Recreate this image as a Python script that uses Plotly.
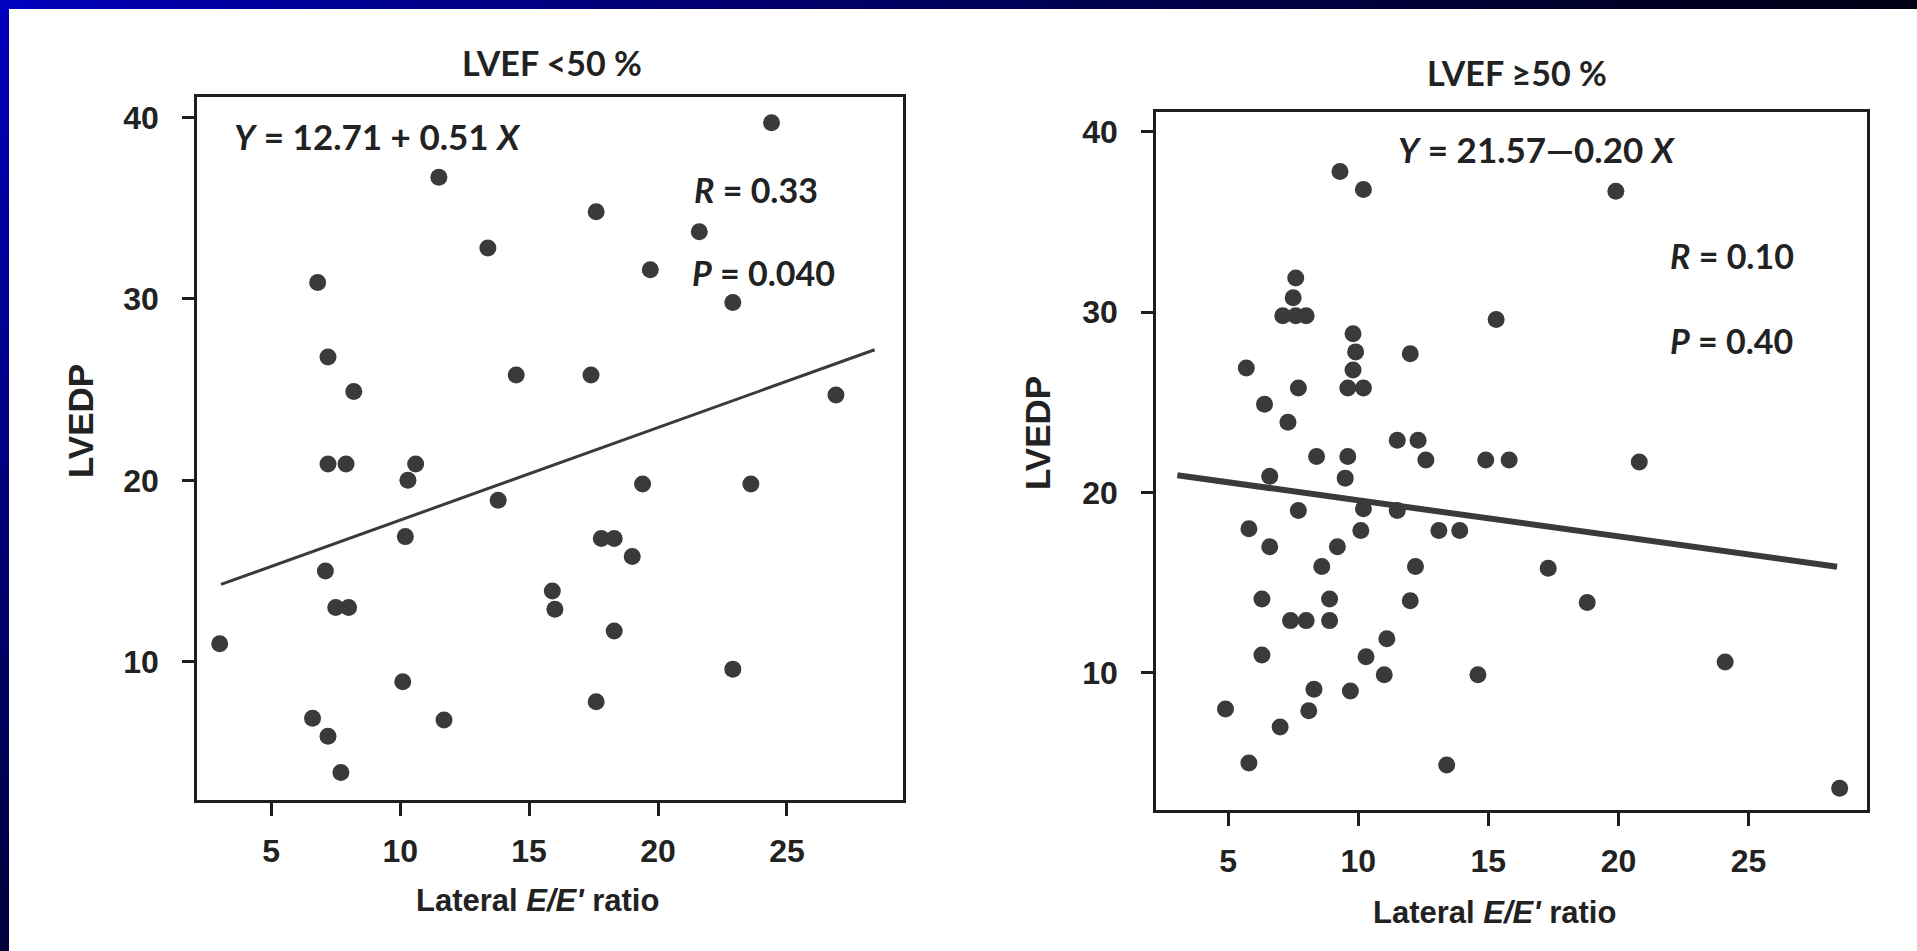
import plotly.graph_objects as go

W, H = 1917, 951

# LVEF < 50 %: lateral E/E' ratio vs LVEDP
left_x = [24.4, 11.5, 17.6, 13.4, 21.6, 19.7, 22.9, 6.8, 7.2, 8.2, 14.5, 17.4, 26.9,
          7.2, 7.9, 10.6, 10.3, 19.4, 23.6, 13.8, 10.2, 17.8, 18.3, 19.0, 7.1, 7.5,
          8.0, 15.9, 16.0, 18.3, 3.0, 22.9, 10.1, 17.6, 11.7, 6.6, 7.2, 7.7]
left_y = [39.7, 36.7, 34.8, 32.8, 33.7, 31.6, 29.8, 30.9, 26.8, 24.9, 25.8, 25.8, 24.7,
          20.9, 20.9, 20.9, 20.0, 19.8, 19.8, 18.9, 16.9, 16.8, 16.8, 15.8, 15.0, 13.0,
          13.0, 13.9, 12.9, 11.7, 11.0, 9.6, 8.9, 7.8, 6.8, 6.9, 5.9, 3.9]

# LVEF >= 50 %
right_x = [9.3, 10.2, 19.9, 7.6, 7.5, 7.1, 7.6, 8.0, 15.3, 9.8, 9.9, 9.8, 9.6, 10.2,
           12.0, 5.7, 7.7, 6.4, 7.3, 11.5, 12.3, 12.6, 8.4, 9.6, 14.9, 15.8, 20.8, 9.5,
           6.6, 7.7, 10.2, 11.5, 10.1, 5.8, 6.6, 9.2, 13.1, 13.9, 8.6, 12.2, 17.3, 6.3,
           8.9, 12.0, 18.8, 7.4, 8.0, 8.9, 11.1, 6.3, 10.3, 24.1, 11.0, 14.6, 8.3, 9.7,
           8.1, 4.9, 7.0, 5.8, 13.4, 28.5]
right_y = [37.8, 36.8, 36.7, 31.9, 30.8, 29.8, 29.8, 29.8, 29.6, 28.8, 27.8, 26.8, 25.8,
           25.8, 27.7, 26.9, 25.8, 24.9, 23.9, 22.9, 22.9, 21.8, 22.0, 22.0, 21.8, 21.8,
           21.7, 20.8, 20.9, 19.0, 19.1, 19.0, 17.9, 18.0, 17.0, 17.0, 17.9, 17.9, 15.9,
           15.9, 15.8, 14.1, 14.1, 14.0, 13.9, 12.9, 12.9, 12.9, 11.9, 11.0, 10.9, 10.6,
           9.9, 9.9, 9.1, 9.0, 7.9, 8.0, 7.0, 5.0, 4.9, 3.6]

# regression fits: Y = a + b X
left_fit = (12.71, 0.51)
right_fit = (21.57, -0.20)
fit_span = [3.05, 28.4]

x_ticks = [5, 10, 15, 20, 25]
y_ticks = [10, 20, 30, 40]

DOT = "#3a3a3a"
INK = "#1e1e1e"
SANS = "Liberation Sans, Arial, sans-serif"
CAL = "Lato, Carlito, Calibri, sans-serif"


def px(x):
    return x / W


def py(y):
    return 1 - y / H


fig = go.Figure()

for xs, ys, (a, b), xa, ya, lw in [
    (left_x, left_y, left_fit, "x", "y", 3),
    (right_x, right_y, right_fit, "x2", "y2", 6),
]:
    fig.add_trace(go.Scatter(
        x=xs, y=ys, mode="markers", xaxis=xa, yaxis=ya,
        marker=dict(size=17, color=DOT, line=dict(width=0)),
        hoverinfo="x+y", showlegend=False,
    ))
    fig.add_trace(go.Scatter(
        x=fit_span, y=[a + b * v for v in fit_span], mode="lines",
        xaxis=xa, yaxis=ya, line=dict(color=DOT, width=lw),
        hoverinfo="skip", showlegend=False,
    ))

axis_common = dict(
    showline=True, linecolor=INK, linewidth=2.5, mirror=True,
    ticks="outside", tickcolor=INK, showgrid=False, zeroline=False,
    tickfont=dict(family=SANS, size=32, color="#222222", weight="bold"),
)

fig.update_layout(
    width=W, height=H,
    margin=dict(l=0, r=0, t=0, b=0),
    paper_bgcolor="white", plot_bgcolor="white",
    xaxis=dict(axis_common, domain=[px(197), px(903)], range=[2.12, 29.5],
               tickvals=x_ticks, ticklen=13, tickwidth=3, ticklabelstandoff=8,
               anchor="y"),
    yaxis=dict(axis_common, domain=[py(800), py(97)], range=[2.39, 41.12],
               tickvals=y_ticks, ticklen=12, tickwidth=2.5, ticklabelstandoff=17,
               anchor="x"),
    xaxis2=dict(axis_common, domain=[px(1156), px(1867)], range=[2.23, 29.55],
                tickvals=x_ticks, ticklen=13, tickwidth=3, ticklabelstandoff=8,
                anchor="y2"),
    yaxis2=dict(axis_common, domain=[py(810), py(112)], range=[2.4, 41.1],
                tickvals=y_ticks, ticklen=12, tickwidth=2.5, ticklabelstandoff=17,
                anchor="x2"),
)


def label(text, x, y, size, family, xanchor="center", angle=0):
    fig.add_annotation(
        text=text, x=px(x), y=py(y), xref="paper", yref="paper",
        xanchor=xanchor, yanchor="middle", showarrow=False, textangle=angle,
        font=dict(family=family, size=size, color="#222222", weight="bold"),
    )


# panel titles
label("LVEF &lt;50 %", 552, 62, 34, CAL)
label("LVEF \u226550 %", 1517, 73, 34, CAL)

# fit statistics
label("<i>Y</i> = 12.71 + 0.51 <i>X</i>", 232, 136, 35, CAL, "left")
label("<i>R</i> = 0.33", 692, 189, 34, CAL, "left")
label("<i>P</i> = 0.040", 690, 272, 34, CAL, "left")
label("<i>Y</i> = 21.57\u20140.20 <i>X</i>", 1396, 149, 35, CAL, "left")
label("<i>R</i> = 0.10", 1668, 255, 34, CAL, "left")
label("<i>P</i> = 0.40", 1668, 340, 34, CAL, "left")

# axis titles
label("Lateral <i>E/E'</i> ratio", 537, 900, 31, SANS)
label("Lateral <i>E/E'</i> ratio", 1494, 912, 31, SANS)
label("LVEDP", 80, 421, 35, SANS, angle=-90)
label("LVEDP", 1037, 433, 35, SANS, angle=-90)

# slide frame: blue bands along the top and left edges
shapes = []
n = 64
for i in range(n):
    t = i / (n - 1)
    top_col = "rgb(0,0,%d)" % int(190 - 170 * t ** 0.8)
    shapes.append(dict(type="rect", xref="paper", yref="paper",
                       x0=i / n, x1=(i + 1) / n + 0.001, y0=py(9), y1=1,
                       fillcolor=top_col, line=dict(width=0), layer="above"))
    left_col = "rgb(0,0,%d)" % int(190 - 130 * t)
    shapes.append(dict(type="rect", xref="paper", yref="paper",
                       x0=0, x1=px(9), y0=1 - (i + 1) / n - 0.001, y1=1 - i / n,
                       fillcolor=left_col, line=dict(width=0), layer="above"))
fig.update_layout(shapes=shapes)

fig.write_html("out.html")
